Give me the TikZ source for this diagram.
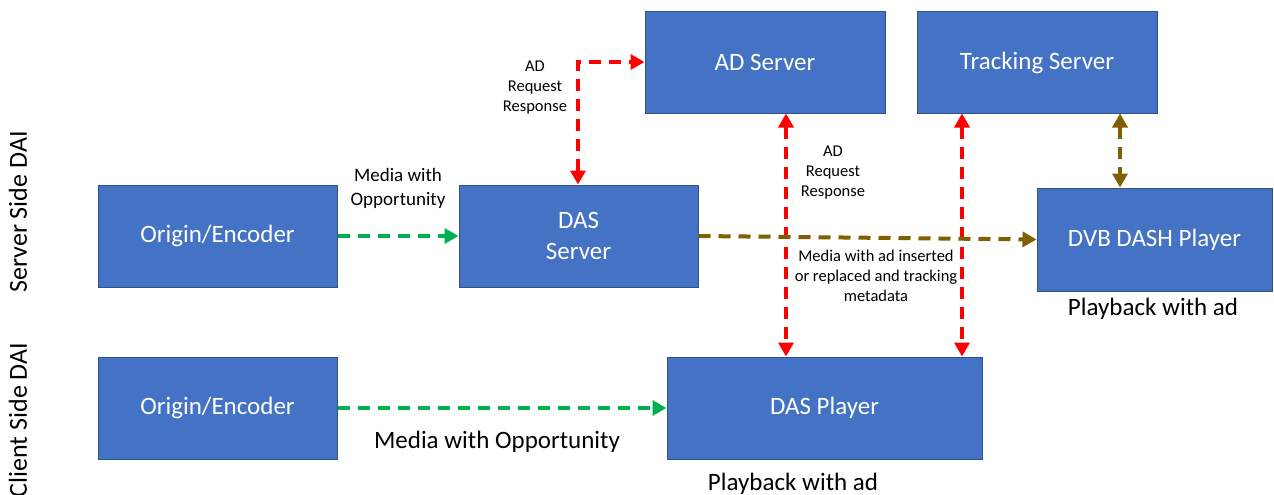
\documentclass[tikz,border=0pt]{standalone}
\usepackage{fontspec}
\setmainfont{Carlito}
\usetikzlibrary{arrows.meta}
\definecolor{boxblue}{HTML}{4472C4}
\definecolor{boxedge}{HTML}{2F528F}
\definecolor{adred}{HTML}{FF0000}
\definecolor{medgreen}{HTML}{00B050}
\definecolor{olive}{HTML}{7F6000}
\tikzset{
  blk/.style={draw=boxedge, line width=1pt, fill=boxblue, text=white, font=\fontsize{25}{31}\selectfont, align=center, inner sep=0pt},
  dsh/.style={line width=4pt, dash pattern=on 12pt off 8pt},
  tip/.style={-{Triangle[length=14pt,width=15pt]}},
  tips/.style={{Triangle[length=14pt,width=15pt]}-{Triangle[length=14pt,width=15pt]}},
  small/.style={font=\fontsize{16.5}{20}\selectfont, align=center, text=black},
  big/.style={font=\fontsize{25}{30}\selectfont, text=black}
}
\begin{document}
\begin{tikzpicture}[x=1pt,y=-1pt]
\useasboundingbox (0,0) rectangle (1274,495);
% boxes
\node[blk, minimum width=240pt, minimum height=101pt] (ads) at (765,62.5) {AD Server};
\node[blk, minimum width=240pt, minimum height=101pt] (trk) at (1037,62.5) {Tracking Server};
\node[blk, minimum width=239pt, minimum height=102pt] (orig1) at (217.5,236) {Origin/Encoder};
\node[blk, minimum width=239pt, minimum height=102pt] (das) at (578.5,236) {DAS\\Server};
\node[blk, minimum width=235pt, minimum height=103pt] (dvb) at (1154.5,239.5) {DVB DASH Player};
\node[blk, minimum width=239pt, minimum height=102pt] (orig2) at (217.5,408) {Origin/Encoder};
\node[blk, minimum width=315pt, minimum height=102pt] (dasp) at (824.5,408) {DAS Player};
% coordinates
\coordinate (c1) at (578,62);
% red AD request/response
\draw[adred, dsh, tips] (das.north -| c1) -- (c1) -- (c1 -| ads.west);
\draw[adred, dsh, tips] (ads.south -| 786,0) -- (dasp.north -| 786,0);
\draw[adred, dsh, tips] (trk.south -| 962,0) -- (dasp.north -| 962,0);
% green media
\draw[medgreen, dsh, tip] (orig1.east) -- (das.west);
\draw[medgreen, dsh, tip] (orig2.east) -- (dasp.west);
% olive
\draw[olive, dsh, tip] (das.east) -- (dvb.west);
\draw[olive, dsh, tips] (trk.south -| 1120,0) -- (dvb.north -| 1120,0);
% labels
\node[small] (l1) at (535,88) {AD\\Request\\Response};
\node[small] (l2) at (833,173) {AD\\Request\\Response};
\node[small, font=\fontsize{19}{24}\selectfont] (l3) at (398,188) {Media with\\Opportunity};
\node[small] (l4) at (876,276) {Media with ad inserted\\or replaced and tracking\\metadata};
\node[big] (l5) at (497,442) {Media with Opportunity};
\node[big] (l6) at (1153,309) {Playback with ad};
\node[big] (l7) at (793,484) {Playback with ad};
\node[big, font=\fontsize{26}{30}\selectfont, rotate=90] (l8) at (18,212) {Server Side DAI};
\node[big, font=\fontsize{26}{30}\selectfont, rotate=90] (l9) at (18,420) {Client Side DAI};
\end{tikzpicture}
\end{document}
